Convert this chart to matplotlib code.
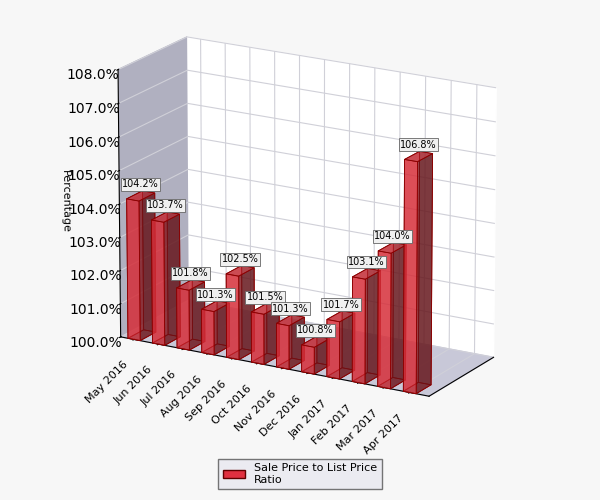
import matplotlib
matplotlib.use("Agg")
import matplotlib.pyplot as plt
import numpy as np

months = ["May 2016", "Jun 2016", "Jul 2016", "Aug 2016", "Sep 2016", "Oct 2016",
          "Nov 2016", "Dec 2016", "Jan 2017", "Feb 2017", "Mar 2017", "Apr 2017"]
ratio = [104.2, 103.7, 101.8, 101.3, 102.5, 101.5, 101.3, 100.8, 101.7, 103.1, 104.0, 106.8]
base = 100.0

fig = plt.figure(figsize=(6, 5), dpi=100)
fig.patch.set_facecolor("#f7f7f7")
ax = fig.add_axes([0.02, 0.1, 0.96, 0.92], projection="3d")
ax.set_facecolor("#f7f7f7")
ax.set_proj_type("persp", focal_length=2.5)
ax.view_init(elev=18, azim=-60)

x = np.arange(len(months))
heights = np.array(ratio) - base
ax.bar3d(x, np.zeros(len(x)), np.full(len(x), base), 0.5, 0.5, heights,
         color=(0.95, 0.2, 0.25, 0.6), edgecolor="#8b0000", linewidth=0.6, shade=True)

for xi, v in zip(x, ratio):
    ax.text(xi + 0.25, 0.25, v + 0.2, f"{v:.1f}%", fontsize=7, ha="center", va="bottom",
            bbox=dict(boxstyle="square,pad=0.15", fc="#f0f0f0", ec="#666666", lw=0.6), zorder=10)

ax.set_xlim(-0.3, len(months))
ax.set_ylim(0, 2.2)
ax.set_zlim(100, 108)
ax.set_xticks(x + 0.25)
ax.set_xticklabels(months, rotation=45, ha="right", fontsize=8)
ax.set_yticks([])
zt = np.arange(100, 108.5, 1)
ax.set_zticks(zt)
ax.set_zticklabels([f"{v:.1f}%" for v in zt], fontsize=10)
ax.zaxis.set_ticks_position("lower")
ax.zaxis.set_label_position("lower")
ax.set_zlabel("Percentage", fontsize=8)
ax.set_box_aspect((2.4, 0.9, 1.9))
ax.xaxis.set_pane_color("#b0b0c0")
ax.yaxis.set_pane_color("#ffffff")
ax.zaxis.set_pane_color("#c8c8d8")
ax.xaxis._axinfo["grid"]["color"] = "#d0d0d8"
ax.zaxis._axinfo["grid"]["color"] = "#d0d0d8"
ax.yaxis._axinfo["grid"]["color"] = "#d0d0d8"

handle = plt.Rectangle((0, 0), 1, 1, fc="#e03040", ec="#600000")
fig.legend([handle], ["Sale Price to List Price\nRatio"], loc="lower center",
           bbox_to_anchor=(0.5, 0.01), fontsize=8, fancybox=False, edgecolor="#555555",
           facecolor="#e8e8f0")
fig.savefig("out.png", dpi=100, facecolor=fig.get_facecolor())
